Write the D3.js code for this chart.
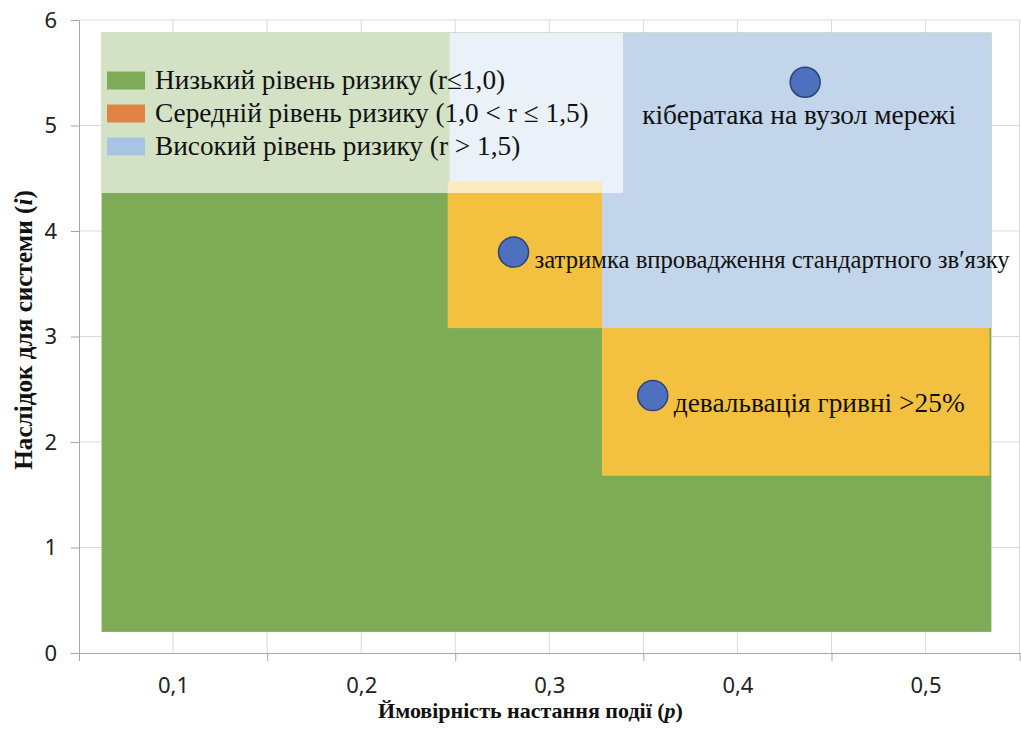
<!DOCTYPE html>
<html lang="uk">
<head>
<meta charset="utf-8">
<script src="https://cdnjs.cloudflare.com/ajax/libs/d3/7.8.5/d3.min.js"></script>
<style>
  body { margin: 0; background: #fff; }
  .serif { font-family: "Liberation Serif", "Times New Roman", serif; }
  .ticklabel { font-family: "Noto Sans", "Open Sans", sans-serif; }
</style>
</head>
<body>
<svg id="chart" width="1021" height="729"></svg>
<script>
// risk zones (p = probability, i = impact)
const zoneLevel = ["low", "high", "mid", "mid"];
const zoneP0 = [0.062, 0.247, 0.246, 0.328];
const zoneP1 = [0.535, 0.535, 0.328, 0.534];
const zoneI0 = [0.2, 3.08, 3.08, 1.68];
const zoneI1 = [5.88, 5.88, 4.47, 3.08];

// risk events
const eventNames = ["кібератака на вузол мережі", "затримка впровадження стандартного зв′язку", "девальвація гривні >25%"];
const eventP = [0.436, 0.281, 0.355];
const eventI = [5.41, 3.80, 2.44];
const eventLabelSide = ["below", "right", "right"];

// legend
const legendLevels = ["low", "midLegend", "highLegend"];
const legendLabels = ["Низький рівень ризику (r≤1,0)", "Середній рівень ризику (1,0 < r ≤ 1,5)", "Високий рівень ризику (r > 1,5)"];

// axes
const xLabelTicks = [0.1, 0.2, 0.3, 0.4, 0.5];
const xMarkTicks = [0.05, 0.15, 0.25, 0.35, 0.45, 0.55];
const xGridTicks = [0.1, 0.15, 0.2, 0.25, 0.3, 0.35, 0.4, 0.45, 0.5, 0.55];
const yTicks = [0, 1, 2, 3, 4, 5, 6];

const colors = {
  low: "#7eab55",
  mid: "#f3c13f",
  high: "#c2d5ea",
  midLegend: "#e08443",
  highLegend: "#a9c3e4"
};

const svg = d3.select("#chart");
const plotL = 79, plotR = 1019.6, plotT = 20, plotB = 653;

const x = d3.scaleLinear().domain([0.05, 0.55]).range([plotL, plotR]);
const y = d3.scaleLinear().domain([0, 6]).range([plotB, plotT]);

// gridlines
svg.append("g").selectAll("line").data(xGridTicks).join("line")
  .attr("x1", d => x(d)).attr("x2", d => x(d))
  .attr("y1", plotT).attr("y2", plotB)
  .attr("stroke", "#d9d9d9").attr("stroke-width", 1);
svg.append("g").selectAll("line").data(yTicks.slice(1)).join("line")
  .attr("x1", plotL).attr("x2", plotR)
  .attr("y1", d => y(d)).attr("y2", d => y(d))
  .attr("stroke", "#d9d9d9").attr("stroke-width", 1);

// zones
svg.append("g").selectAll("rect").data(zoneLevel).join("rect")
  .attr("x", (d, i) => x(zoneP0[i]))
  .attr("width", (d, i) => x(zoneP1[i]) - x(zoneP0[i]))
  .attr("y", (d, i) => y(zoneI1[i]))
  .attr("height", (d, i) => y(zoneI0[i]) - y(zoneI1[i]))
  .attr("fill", d => colors[d]);

// axes
const yAxis = svg.append("g").attr("transform", `translate(${plotL},0)`)
  .call(d3.axisLeft(y).tickValues(yTicks).tickSize(8).tickSizeOuter(0).tickPadding(14).tickFormat(d3.format("d")));
const xMarks = svg.append("g").attr("transform", `translate(0,${plotB})`)
  .call(d3.axisBottom(x).tickValues(xMarkTicks).tickSize(8).tickSizeOuter(0).tickFormat(""));
const xLabels = svg.append("g").attr("transform", `translate(0,${plotB})`)
  .call(d3.axisBottom(x).tickValues(xLabelTicks).tickSize(0).tickFormat(d => d3.format(".1f")(d).replace(".", ",")));
xLabels.select(".domain").remove();
xLabels.selectAll("text").attr("dy", null).attr("y", 40);
[yAxis, xMarks].forEach(g => {
  g.selectAll(".domain, line").attr("stroke", "#a6a6a6");
});
[yAxis, xLabels].forEach(g => {
  g.attr("font-family", null).attr("font-size", null);
  g.selectAll("text").attr("class", "ticklabel")
    .attr("font-size", 22).attr("fill", "#222");
});

// legend box
const lg = svg.append("g");
lg.append("rect").attr("x", 101.7).attr("y", 33).attr("width", 521.3).attr("height", 160)
  .attr("fill", "#fff").attr("fill-opacity", 0.66);
const rows = lg.selectAll("g.row").data(legendLabels).join("g").attr("class", "row")
  .attr("transform", (d, i) => `translate(107,${80.5 + i * 33})`);
rows.append("rect").attr("x", 0).attr("y", -9).attr("width", 38).attr("height", 18)
  .attr("fill", (d, i) => colors[legendLevels[i]]);
rows.append("text").attr("class", "serif").attr("x", 48).attr("y", 8.5)
  .attr("font-size", 27.3).attr("fill", "#111").text(d => d);

// events
const ev = svg.append("g").selectAll("g").data(eventNames).join("g");
ev.append("circle")
  .attr("cx", (d, i) => x(eventP[i])).attr("cy", (d, i) => y(eventI[i]))
  .attr("r", 15).attr("fill", "#4e71bf").attr("stroke", "#2c4474").attr("stroke-width", 1.5);
ev.append("text").attr("class", "serif").attr("font-size", 27.4).attr("fill", "#111")
  .attr("x", (d, i) => eventLabelSide[i] === "below" ? x(eventP[i]) - 6 : x(eventP[i]) + 21)
  .attr("y", (d, i) => eventLabelSide[i] === "below" ? y(eventI[i]) + 42 : y(eventI[i]) + 16)
  .attr("text-anchor", (d, i) => eventLabelSide[i] === "below" ? "middle" : "start")
  .text(d => d)
  .each(function () {
    // shrink labels that would run past the right edge
    const room = 1010 - (+this.getAttribute("x"));
    const len = this.getComputedTextLength();
    if (this.getAttribute("text-anchor") === "start" && len > room) {
      d3.select(this).attr("font-size", 27.4 * room / len);
    }
  });

// axis titles
const xt = svg.append("text").attr("class", "serif").attr("x", 530.5).attr("y", 718)
  .attr("text-anchor", "middle").attr("font-size", 22).attr("font-weight", "bold").attr("fill", "#111");
xt.append("tspan").text("Ймовірність настання події (");
xt.append("tspan").attr("font-style", "italic").text("p");
xt.append("tspan").text(")");

const yt = svg.append("text").attr("class", "serif")
  .attr("transform", "translate(32,330) rotate(-90)")
  .attr("text-anchor", "middle").attr("font-size", 25.2).attr("font-weight", "bold").attr("fill", "#111");
yt.append("tspan").text("Наслідок для системи (");
yt.append("tspan").attr("font-style", "italic").text("i");
yt.append("tspan").text(")");
</script>
</body>
</html>
